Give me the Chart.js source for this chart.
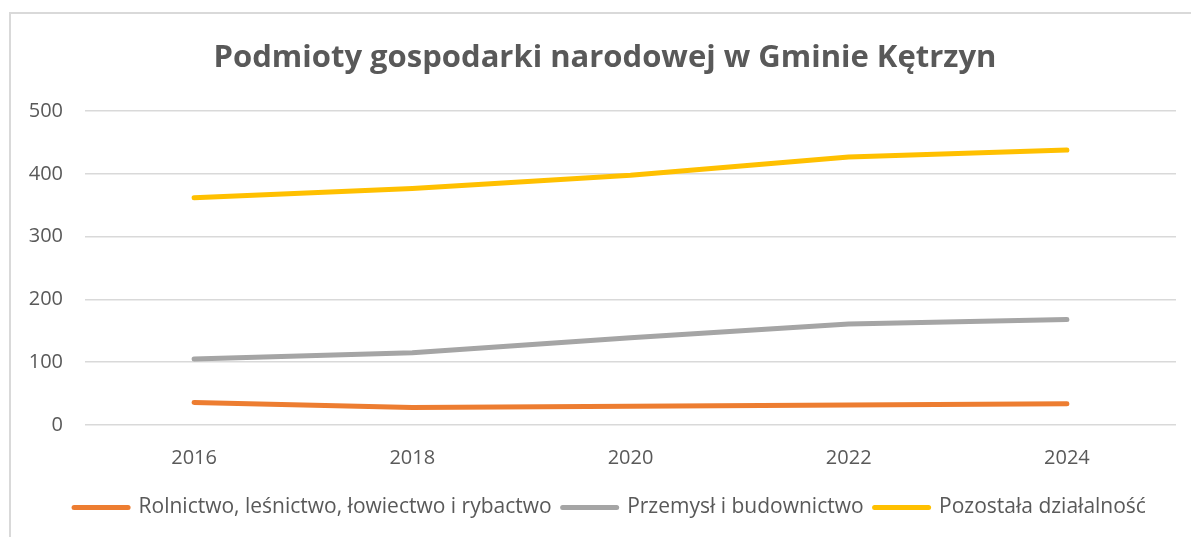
<!DOCTYPE html>
<html>
<head>
<meta charset="utf-8">
<script src="https://cdn.jsdelivr.net/npm/chart.js@4/dist/chart.umd.min.js"></script>
<style>
  html, body { margin: 0; padding: 0; background: #fff; overflow: hidden; }
  #wrap { position: relative; width: 1191px; height: 537px; }
  #frame { position: absolute; left: 9px; top: 12px; width: 1300px; height: 600px;
           border-left: 2px solid #d9d9d9; border-top: 2px solid #d9d9d9; box-sizing: border-box; }
  canvas { position: absolute; left: 0; top: 0; }
</style>
</head>
<body>
<div id="wrap">
  <div id="frame"></div>
  <canvas id="chart" width="1191" height="537"></canvas>
</div>
<script>
const years = ['2016', '2018', '2020', '2022', '2024'];
const rolnictwo = [36, 28, 30, 32, 34];
const przemysl = [105, 115, 139, 161, 168];
const pozostala = [362, 377, 398, 427, 438];

const txt = '#595959';
const font = 'Open Sans';

// title and legend in the original are centred on the whole frame, not on the plot
const centerBoxes = {
    id: 'centerBoxes',
    afterLayout(chart) {
        if (chart.titleBlock) chart.titleBlock.left = 34;
        if (chart.legend) chart.legend.left = 44;
    }
};

const ctx = document.getElementById('chart').getContext('2d');
const myChart = new Chart(ctx, {
    type: 'line',
    data: {
        labels: years,
        datasets: [
            { label: 'Rolnictwo, leśnictwo, łowiectwo i rybactwo', data: rolnictwo, borderColor: '#ed7d31', backgroundColor: '#ed7d31' },
            { label: 'Przemysł i budownictwo', data: przemysl, borderColor: '#a5a5a5', backgroundColor: '#a5a5a5' },
            { label: 'Pozostała działalność', data: pozostala, borderColor: '#ffc000', backgroundColor: '#ffc000' }
        ]
    },
    options: {
        responsive: false,
        animation: false,
        elements: {
            line: { borderWidth: 5, tension: 0, borderCapStyle: 'round', borderJoinStyle: 'round' },
            point: { radius: 0, hoverRadius: 0 }
        },
        layout: { padding: { left: 0, right: 15, top: 0, bottom: 9 } },
        plugins: {
            title: {
                display: true,
                text: 'Podmioty gospodarki narodowej w Gminie Kętrzyn',
                color: txt,
                font: { family: font, size: 31, weight: 'bold' },
                padding: { top: 40, bottom: 34 }
            },
            legend: {
                position: 'bottom',
                labels: {
                    color: txt,
                    font: { family: font, size: 21 },
                    usePointStyle: true,
                    pointStyleWidth: 54,
                    padding: 11,
                    generateLabels: chart => chart.data.datasets.map((ds, i) => ({
                        text: ds.label,
                        fillStyle: ds.borderColor,
                        strokeStyle: ds.borderColor,
                        lineWidth: 5,
                        lineCap: 'round',
                        pointStyle: 'line',
                        fontColor: txt,
                        hidden: false,
                        datasetIndex: i
                    }))
                }
            },
            tooltip: { enabled: false }
        },
        scales: {
            x: {
                offset: true,
                grid: { display: false, drawTicks: false },
                border: { display: false },
                ticks: { color: txt, font: { family: font, size: 20 }, padding: 21 },
                afterFit: s => { s.height = 61; }
            },
            y: {
                min: 0,
                max: 500,
                grid: { color: '#d9d9d9', lineWidth: 1.5, drawTicks: false },
                border: { display: false },
                ticks: { stepSize: 100, color: txt, font: { family: font, size: 20 }, padding: 22 },
                afterFit: s => { s.width = 85; }
            }
        }
    },
    plugins: [centerBoxes]
});
</script>
</body>
</html>
